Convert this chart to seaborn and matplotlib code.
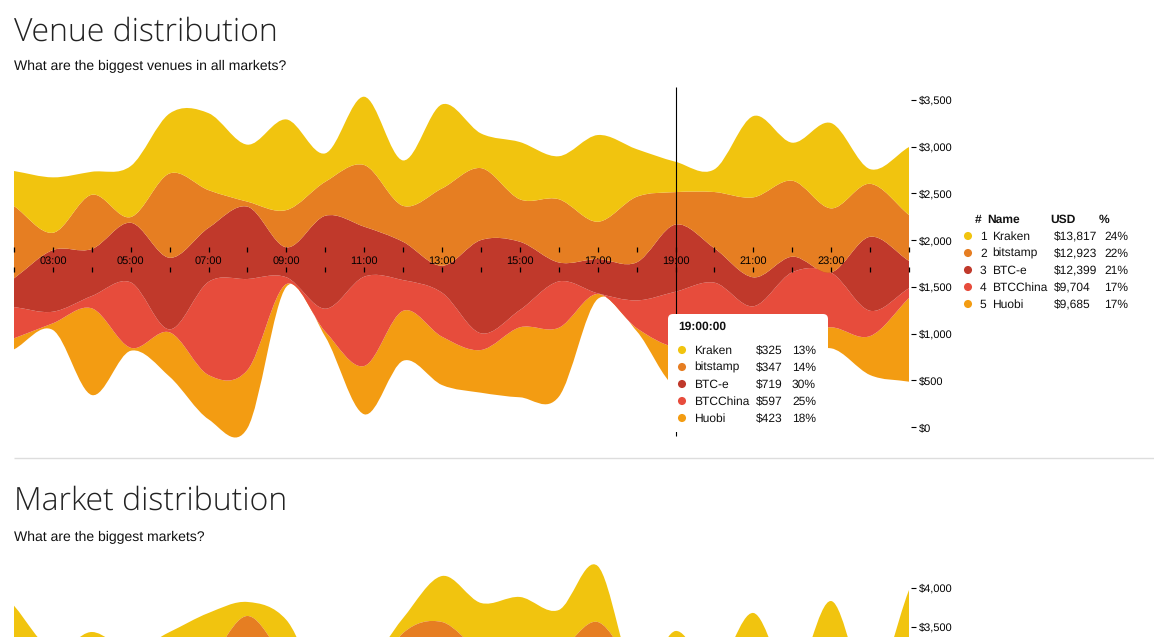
import numpy as np
import seaborn as sns

from matplotlib import pyplot as plt
from matplotlib.patches import FancyBboxPatch, PathPatch
from matplotlib.path import Path


hours = list(range(2, 26))
hour_labels = {h: f'{h:02d}:00' for h in range(3, 24, 2)}

venues = ['Kraken', 'bitstamp', 'BTC-e', 'BTCChina', 'Huobi']
venue_colors = ['#F1C40F', '#E67E22', '#C0392B', '#E74C3C', '#F39C12']

# stream floor and band heights in USD, one value per hour
floor_usd = [831, 1038, 342, 816, 538, 82, -11, 1501, 966, 136, 709, 449,
	367, 318, 324, 1370, 1027, 428, 546, 589, 696, 842, 556, 485]
huobi = [118, 72, 928, 32, 475, 474, 621, 29, 54, 517, 535, 517,
	457, 749, 738, 54, 32, 423, 332, 310, 289, 225, 417, 896]
btcchina = [335, 124, 132, 700, 32, 998, 974, 72, 246, 956, 328, 471,
	179, 185, 496, 7, 296, 597, 667, 393, 671, 584, 271, 104]
btce = [307, 660, 503, 638, 766, 578, 774, 321, 995, 535, 410, 289,
	998, 731, 203, 367, 407, 719, 368, 310, 167, 4, 792, 292]
bitstamp = [774, 185, 581, 61, 903, 403, 54, 399, 364, 660, 385, 828,
	770, 454, 677, 399, 702, 347, 602, 856, 813, 685, 567, 492]
kraken = [375, 593, 246, 546, 642, 824, 610, 970, 304, 731, 486, 899,
	371, 613, 460, 928, 510, 325, 243, 870, 407, 913, 157, 728]

# second chart is cut by the page, only the upper two edges show
market_top = [3773, 3205, 3436, 3205, 3436, 3680, 3821, 3590, 2692, 2949, 3615, 4154,
	3808, 3885, 3718, 4282, 2821, 3449, 2949, 3680, 2821, 3833, 2692, 3974]
market_second = [2564, 2564, 2564, 2564, 2820, 3077, 3641, 3077, 2692, 2692, 3423, 3564,
	3205, 3205, 3205, 3564, 2949, 2692, 2692, 2692, 2692, 2692, 2692, 2692]

venue_ticks = [0, 500, 1000, 1500, 2000, 2500, 3000, 3500]
market_ticks = [3500, 4000]

tooltip_time = '19:00:00'
tooltip_usd = ['$325', '$347', '$719', '$597', '$423']
tooltip_pct = ['13%', '14%', '30%', '25%', '18%']

table_usd = ['$13,817', '$12,923', '$12,399', '$9,704', '$9,685']
table_pct = ['24%', '22%', '21%', '17%', '17%']

W, H = 1154, 637
SANS = ['Liberation Sans', 'DejaVu Sans']
PX_PER_HOUR = 38.92
INK = '#111111'


def curve_segments(x, y):
	# cardinal curve through the values, same thing the d3 area does
	x = np.asarray(x, dtype=float)
	y = np.asarray(y, dtype=float)
	slope = np.gradient(y, x)
	dx = np.diff(x)
	verts = []
	for i in range(len(x) - 1):
		verts.append((x[i] + dx[i] / 3, y[i] + slope[i] * dx[i] / 3))
		verts.append((x[i + 1] - dx[i] / 3, y[i + 1] - slope[i + 1] * dx[i] / 3))
		verts.append((x[i + 1], y[i + 1]))
	return verts


def band_patch(x, top, bottom, color):
	verts = [(x[0], top[0])] + curve_segments(x, top)
	codes = [Path.MOVETO] + [Path.CURVE4] * (len(verts) - 1)
	verts.append((x[-1], bottom[-1]))
	codes.append(Path.LINETO)
	back = curve_segments(x[::-1], bottom[::-1])
	verts += back
	codes += [Path.CURVE4] * len(back)
	verts.append((x[0], top[0]))
	codes.append(Path.CLOSEPOLY)
	return PathPatch(Path(verts, codes), facecolor=color, edgecolor='none', lw=0)


def chart_axes(fig, y_top_px, y_bottom_px, usd_at, ticks):
	# x runs 02:00 -> 25:00, the axes ends 2px past the stream for the tick gap
	ax = fig.add_axes([14 / W, 1 - y_bottom_px / H, 897 / W, (y_bottom_px - y_top_px) / H])
	ax.set_xlim(2, 25 + 2 / PX_PER_HOUR)
	ax.set_ylim(usd_at(y_bottom_px), usd_at(y_top_px))
	ax.set_xticks([])
	ax.yaxis.tick_right()
	ax.set_yticks(ticks)
	ax.set_yticklabels([f'${t:,}' for t in ticks])
	ax.tick_params(axis='y', direction='out', length=3.4, width=0.8, pad=2.5,
		labelsize=7.7, colors='black', right=True)
	ax.patch.set_alpha(0)
	sns.despine(ax=ax, left=True, right=True, top=True, bottom=True)
	return ax


def row_text(ax, x, y, text, **kwargs):
	# baseline keeps the $ and % columns level with each other
	ax.text(x, y + 4, text, va='baseline', fontsize=8.6, color=INK, **kwargs)


sns.set_theme(style='white')
plt.rcParams['font.family'] = SANS
plt.rcParams['text.hinting'] = 'no_hinting'
plt.rcParams['text.hinting_factor'] = 1
palette = sns.color_palette(venue_colors)

fig = plt.figure(figsize=(W / 100, H / 100), dpi=100, facecolor='white')

# venue stream
ax = chart_axes(fig, 80, 445, lambda py: (427 - py) * 3500 / 327, venue_ticks)
edge = np.array(floor_usd, dtype=float)
stacked = []
for band in [huobi, btcchina, btce, bitstamp, kraken]:
	stacked.append((edge, edge + np.array(band)))
	edge = stacked[-1][1]
for (bottom, top), color in zip(stacked, palette[::-1]):
	ax.add_patch(band_patch(hours, top, bottom, color))

# time axis sits inside the stream
ax.vlines(hours, 1873, 1926, color='black', lw=0.9, zorder=5, clip_on=False)
ax.vlines(hours, 1659, 1712, color='black', lw=0.9, zorder=5, clip_on=False)
for h, label in hour_labels.items():
	ax.text(h, 1745, label, ha='center', va='baseline', fontsize=7.6, color='black', zorder=5)

# crosshair
ax.vlines(19, -96, 3640, color='black', lw=0.8, zorder=6)

# market stream, runs off the bottom of the page
ax2 = chart_axes(fig, 560, H, lambda py: 4000 + (588 - py) * 500 / 39, market_ticks)
ax2.add_patch(band_patch(hours, np.array(market_top, float), np.array(market_second, float), palette[0]))
ax2.add_patch(band_patch(hours, np.array(market_second, float), np.full(len(hours), 2000.0), palette[1]))

# page layer in pixel coordinates: headings, table, tooltip
page = fig.add_axes([0, 0, 1, 1], zorder=10)
page.set_xlim(0, W)
page.set_ylim(H, 0)
page.axis('off')
page.patch.set_alpha(0)

title_font = dict(family=['Open Sans', 'DejaVu Sans'], fontweight='light', fontsize=23.2, color='#222222')
page.text(14, 41, 'Venue distribution', va='baseline', **title_font)
page.text(14, 510, 'Market distribution', va='baseline', **title_font)
page.text(14, 70, 'What are the biggest venues in all markets?', va='baseline', fontsize=10.35, color=INK)
page.text(14, 541, 'What are the biggest markets?', va='baseline', fontsize=10.35, color=INK)
page.hlines(458, 14, 1154, color='#dddddd', lw=1)

# tooltip
page.add_patch(FancyBboxPatch((672, 318), 152, 110, boxstyle='round,pad=4,rounding_size=5',
	facecolor='white', edgecolor='none', zorder=2))
page.text(678, 330, tooltip_time, va='baseline', fontsize=8.7, fontweight='bold', color=INK, zorder=3)
row_y = [350, 367, 384, 401, 418]
sns.scatterplot(x=[682] * 5, y=row_y, hue=venues, palette=venue_colors, s=34, linewidth=0,
	legend=False, ax=page, zorder=3)
for y, name, usd, pct in zip(row_y, venues, tooltip_usd, tooltip_pct):
	row_text(page, 694, y, name, zorder=3)
	row_text(page, 756, y, usd, zorder=3)
	row_text(page, 816, y, pct, ha='right', zorder=3)

# leaderboard table
for x, label in zip([975, 987, 1050, 1099], ['#', 'Name', 'USD', '%']):
	row_text(page, x, 219, label, fontweight='bold')
table_y = [236, 253, 270, 287, 304]
sns.scatterplot(x=[968] * 5, y=table_y, hue=venues, palette=venue_colors, s=34, linewidth=0,
	legend=False, ax=page)
for i, (y, name, usd, pct) in enumerate(zip(table_y, venues, table_usd, table_pct)):
	row_text(page, 980, y, str(i + 1))
	row_text(page, 992, y, name)
	row_text(page, 1054, y, usd)
	row_text(page, 1128, y, pct, ha='right')

page.set_xlim(0, W)
page.set_ylim(H, 0)
page.set_xlabel('')
page.set_ylabel('')

fig.savefig('out.png', dpi=100)
